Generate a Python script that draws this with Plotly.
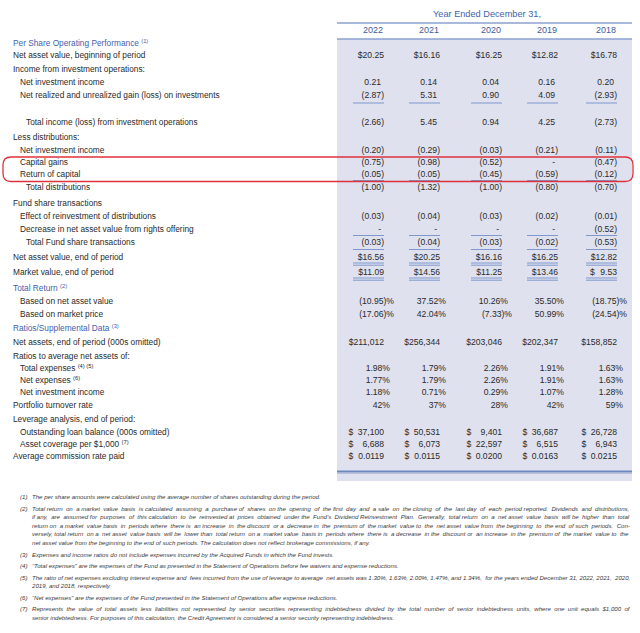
import plotly.graph_objects as go

# ---------------- data ----------------
HEADER = "Year Ended December 31,"
YEARS = ["2022", "2021", "2020", "2019", "2018"]

ROW_LABELS = [
    "Per Share Operating Performance <sup>(1)</sup>",
    "Net asset value, beginning of period",
    "Income from investment operations:",
    "Net investment income",
    "Net realized and unrealized gain (loss) on investments",
    "Total income (loss) from investment operations",
    "Less distributions:",
    "Net investment income",
    "Capital gains",
    "Return of capital",
    "Total distributions",
    "Fund share transactions",
    "Effect of reinvestment of distributions",
    "Decrease in net asset value from rights offering",
    "Total Fund share transactions",
    "Net asset value, end of period",
    "Market value, end of period",
    "Total Return <sup>(2)</sup>",
    "Based on net asset value",
    "Based on market price",
    "Ratios/Supplemental Data <sup>(3)</sup>",
    "Net assets, end of period (000s omitted)",
    "Ratios to average net assets of:",
    "Total expenses <sup>(4) (5)</sup>",
    "Net expenses <sup>(6)</sup>",
    "Net investment income",
    "Portfolio turnover rate",
    "Leverage analysis, end of period:",
    "Outstanding loan balance (000s omitted)",
    "Asset coverage per $1,000 <sup>(7)</sup>",
    "Average commission rate paid",
]
SECTION_ROWS = [0, 17, 20]

ROW_VALUES = {
    1: ["$20.25", "$16.16", "$16.25", "$12.82", "$16.78"],
    3: ["0.21", "0.14", "0.04", "0.16", "0.20"],
    4: ["(2.87)", "5.31", "0.90", "4.09", "(2.93)"],
    5: ["(2.66)", "5.45", "0.94", "4.25", "(2.73)"],
    7: ["(0.20)", "(0.29)", "(0.03)", "(0.21)", "(0.11)"],
    8: ["(0.75)", "(0.98)", "(0.52)", "-", "(0.47)"],
    9: ["(0.05)", "(0.05)", "(0.45)", "(0.59)", "(0.12)"],
    10: ["(1.00)", "(1.32)", "(1.00)", "(0.80)", "(0.70)"],
    12: ["(0.03)", "(0.04)", "(0.03)", "(0.02)", "(0.01)"],
    13: ["-", "-", "-", "-", "(0.52)"],
    14: ["(0.03)", "(0.04)", "(0.03)", "(0.02)", "(0.53)"],
    15: ["$16.56", "$20.25", "$16.16", "$16.25", "$12.82"],
    16: ["$11.09", "$14.56", "$11.25", "$13.46", "$ 9.53"],
    18: ["(10.95)%", "37.52%", "10.26%", "35.50%", "(18.75)%"],
    19: ["(17.06)%", "42.04%", "(7.33)%", "50.99%", "(24.54)%"],
    21: ["$211,012", "$256,344", "$203,046", "$202,347", "$158,852"],
    23: ["1.98%", "1.79%", "2.26%", "1.91%", "1.63%"],
    24: ["1.77%", "1.79%", "2.26%", "1.91%", "1.63%"],
    25: ["1.18%", "0.71%", "0.29%", "1.07%", "1.28%"],
    26: ["42%", "37%", "28%", "42%", "59%"],
    28: ["$ 37,100", "$ 50,531", "$ 9,401", "$ 36,687", "$ 26,728"],
    29: ["$ 6,688", "$ 6,073", "$ 22,597", "$ 6,515", "$ 6,943"],
    30: ["$ 0.0119", "$ 0.0115", "$ 0.0200", "$ 0.0163", "$ 0.0215"],
}

FOOTNOTES = [
    ("(1)", ["The per share amounts were calculated using the average number of shares outstanding during the period."]),
    ("(2)", [
        "Total return on a market value basis is calculated assuming a purchase of shares on the opening of the first day and a sale on the closing of the last day of each period reported. Dividends and distributions,",
        "if any, are assumed for purposes of this calculation to be reinvested at prices obtained under the Fund\u2019s Dividend Reinvestment Plan. Generally, total return on a net asset value basis will be higher than total",
        "return on a market value basis in periods where there is an increase in the discount or a decrease in the premium of the market value to the net asset value from the beginning to the end of such periods. Con-",
        "versely, total return on a net asset value basis will be lower than total return on a market value basis in periods where there is a decrease in the discount or an increase in the premium of the market value to the",
        "net asset value from the beginning to the end of such periods. The calculation does not reflect brokerage commissions, if any.",
    ]),
    ("(3)", ["Expenses and income ratios do not include expenses incurred by the Acquired Funds in which the Fund invests."]),
    ("(4)", ["\u201cTotal expenses\u201d are the expenses of the Fund as presented in the Statement of Operations before fee waivers and expense reductions."]),
    ("(5)", [
        "The ratio of net expenses excluding interest expense and fees incurred from the use of leverage to average net assets was 1.30%, 1.63%, 2.00%, 1.47%, and 1.34%, for the years ended December 31, 2022, 2021, 2020,",
        "2019, and 2018, respectively.",
    ]),
    ("(6)", ["\u201cNet expenses\u201d are the expenses of the Fund presented in the Statement of Operations after expense reductions."]),
    ("(7)", [
        "Represents the value of total assets less liabilities not represented by senior securities representing indebtedness divided by the total number of senior indebtedness units, where one unit equals $1,000 of",
        "senior indebtedness. For purposes of this calculation, the Credit Agreement is considered a senior security representing indebtedness.",
    ]),
]

# ---------------- layout (positions / styles) ----------------
W, H = 640, 633
COL_EDGE = [384, 440, 502, 558, 617]
ROW_Y = [44, 56, 70, 83, 96, 123, 138, 151, 163, 175, 188, 204, 217, 230, 243,
         258, 273, 289, 302, 315, 329, 343, 357, 369, 381, 393, 406, 420, 433, 445, 457]
INDENT = [0, 0, 0, 1, 1, 2, 0, 1, 1, 1, 2, 0, 1, 1, 2, 0, 0, 0, 1, 1, 0, 0, 0, 1, 1, 1, 0, 0, 1, 1, 0]
INDENT_X = {0: 13, 1: 20, 2: 26}
SINGLE_UNDER = {4: 103, 9: 180.5, 13: 235.5, 14: 249.5}
DOUBLE_UNDER = {15: 263, 16: 278}
UNDER_W = 31
DOLLAR_GAP = {16: 27, 28: 35.5, 29: 35.5, 30: 35.5}
PAREN_W = 3
PCT_PAREN_X, PCT_PLAIN_X = 10, 6
FOOT_Y = [497, 509, 517.5, 526, 534.5, 543, 555, 566.5, 578, 586.5, 598, 609.5, 618]
FOOT_NUM_X, FOOT_TXT_X = 20, 32
FOOT_SIZE = 6.1
FOOT_TARGET = 598          # justified line width (px)
JUSTIFIED = {(1, 0), (1, 1), (1, 2), (1, 3), (4, 0), (6, 0)}   # (footnote, line)

FONT = "Liberation Sans, Arial, sans-serif"
TXT = "#2a2a2a"
BLUE_TXT = "#3e63ad"
HEAD_TXT = "#3f5b9a"
LINE_BLUE = "#8da2d3"
SHADE = "#dfe1ef"
NOMARK = dict(size=0, opacity=0)

# Arial / Liberation Sans advance widths (1/1000 em) for justification
_AW = {" ": 278, "!": 278, '"': 355, "#": 556, "$": 556, "%": 889, "&": 667, "'": 191,
       "(": 333, ")": 333, "*": 389, "+": 584, ",": 278, "-": 333, ".": 278, "/": 278,
       ":": 278, ";": 278, "?": 556, "\u2019": 222, "\u201c": 333, "\u201d": 333,
       "A": 667, "B": 667, "C": 722, "D": 722, "E": 667, "F": 611, "G": 778, "H": 722,
       "I": 278, "J": 500, "K": 667, "L": 556, "M": 833, "N": 722, "O": 778, "P": 667,
       "Q": 778, "R": 722, "S": 667, "T": 611, "U": 722, "V": 667, "W": 944, "X": 667,
       "Y": 667, "Z": 611, "a": 556, "b": 556, "c": 500, "d": 556, "e": 556, "f": 278,
       "g": 556, "h": 556, "i": 222, "j": 222, "k": 500, "l": 222, "m": 833, "n": 556,
       "o": 556, "p": 556, "q": 556, "r": 333, "s": 500, "t": 278, "u": 556, "v": 500,
       "w": 722, "x": 500, "y": 500, "z": 500}


def em_width(s):
    return sum(_AW.get(ch, 556) for ch in s) / 1000.0


def justify(line, size, target):
    natural = em_width(line) * size
    if natural >= target:
        return line, min(size, target / em_width(line))
    extra = int(round((target - natural) / (0.278 * size)))
    words = line.split(" ")
    gaps = len(words) - 1
    out = words[0]
    for g in range(gaps):
        n = extra * (g + 1) // gaps - extra * g // gaps
        out += " " + "\u00a0" * n + words[g + 1]
    return out, size


fig = go.Figure()

# labels
fig.add_trace(go.Scatter(
    x=[INDENT_X[INDENT[i]] for i in range(len(ROW_LABELS))],
    y=ROW_Y, text=ROW_LABELS, mode="text", textposition="middle right", marker=NOMARK,
    textfont=dict(family=FONT, size=8.3,
                  color=[BLUE_TXT if i in SECTION_ROWS else TXT for i in range(len(ROW_LABELS))]),
    hoverinfo="skip", showlegend=False))

# values
vx, vy, vt = [], [], []
dx, dy = [], []
for r, vals in ROW_VALUES.items():
    for c, v in enumerate(vals):
        edge = COL_EDGE[c]
        txt = v
        if v.startswith("$ "):
            txt = v[2:]
            dx.append(edge - DOLLAR_GAP[r]); dy.append(ROW_Y[r])
        if txt.endswith("%"):
            x = edge + (PCT_PAREN_X if txt[:-1].endswith(")") else PCT_PLAIN_X)
        else:
            x = edge - (0 if txt.endswith(")") or txt.startswith("$") or r in DOLLAR_GAP else PAREN_W)
        vx.append(x); vy.append(ROW_Y[r]); vt.append(txt)
fig.add_trace(go.Scatter(x=vx, y=vy, text=vt, mode="text", textposition="middle left", marker=NOMARK,
                         textfont=dict(family=FONT, size=8.6, color=TXT),
                         hoverinfo="skip", showlegend=False))
fig.add_trace(go.Scatter(x=dx, y=dy, text=["$"] * len(dx), mode="text", textposition="middle right",
                         marker=NOMARK, textfont=dict(family=FONT, size=8.6, color=TXT),
                         hoverinfo="skip", showlegend=False))

# header
fig.add_trace(go.Scatter(x=[487], y=[15], text=[HEADER], mode="text", marker=NOMARK,
                         textposition="middle center",
                         textfont=dict(family=FONT, size=9.2, color=BLUE_TXT),
                         hoverinfo="skip", showlegend=False))
fig.add_trace(go.Scatter(x=[e - 1 for e in COL_EDGE], y=[31] * 5, text=YEARS, mode="text",
                         textposition="middle left", marker=NOMARK,
                         textfont=dict(family=FONT, size=9, color=HEAD_TXT),
                         hoverinfo="skip", showlegend=False))

# footnotes
fx, fy, ft, fs, nx, ny, nt = [], [], [], [], [], [], []
k = 0
for fi, (num, lines) in enumerate(FOOTNOTES):
    nx.append(FOOT_NUM_X); ny.append(FOOT_Y[k]); nt.append("<i>%s</i>" % num)
    for li, ln in enumerate(lines):
        if (fi, li) in JUSTIFIED:
            ln2, sz = justify(ln, FOOT_SIZE, FOOT_TARGET)
        else:
            ln2, sz = ln, FOOT_SIZE
        fx.append(FOOT_TXT_X); fy.append(FOOT_Y[k]); ft.append("<i>%s</i>" % ln2); fs.append(sz)
        k += 1
fig.add_trace(go.Scatter(x=nx, y=ny, text=nt, mode="text", textposition="middle right", marker=NOMARK,
                         textfont=dict(family=FONT, size=FOOT_SIZE, color="#3a3a3a"),
                         hoverinfo="skip", showlegend=False))
fig.add_trace(go.Scatter(x=fx, y=fy, text=ft, mode="text", textposition="middle right", marker=NOMARK,
                         textfont=dict(family=FONT, size=fs, color="#3a3a3a"),
                         hoverinfo="skip", showlegend=False))

# shapes
shapes = []
SH_X0, SH_X1 = 337, 632
shapes.append(dict(type="rect", xref="x", yref="y", x0=SH_X0, x1=SH_X1, y0=39, y1=481,
                   fillcolor=SHADE, line=dict(width=0), layer="below"))
shapes.append(dict(type="line", xref="x", yref="y", x0=SH_X0, x1=SH_X1, y0=23, y1=23,
                   line=dict(color=LINE_BLUE, width=1.3)))
shapes.append(dict(type="line", xref="x", yref="y", x0=SH_X0, x1=SH_X1, y0=39, y1=39,
                   line=dict(color=LINE_BLUE, width=1.5)))
shapes.append(dict(type="line", xref="x", yref="y", x0=SH_X0, x1=SH_X1, y0=471.5, y1=471.5,
                   line=dict(color="#6d87c0", width=2)))
shapes.append(dict(type="line", xref="x", yref="y", x0=SH_X0, x1=SH_X1, y0=473.5, y1=473.5,
                   line=dict(color="#b9c0d8", width=1)))
for r, yy in SINGLE_UNDER.items():
    for e in COL_EDGE:
        shapes.append(dict(type="line", xref="x", yref="y", x0=e - UNDER_W, x1=e, y0=yy, y1=yy,
                           line=dict(color="#7f97cc", width=1)))
for r, yy in DOUBLE_UNDER.items():
    for e in COL_EDGE:
        for off in (0, 2.2):
            shapes.append(dict(type="line", xref="x", yref="y", x0=e - UNDER_W, x1=e,
                               y0=yy + off, y1=yy + off, line=dict(color="#7f97cc", width=1)))
# red rounded highlight box
bx0, bx1, by0, by1, rr = 3, 633, 157, 181.5, 8
path = (f"M {bx0+rr} {by0} L {bx1-rr} {by0} Q {bx1} {by0} {bx1} {by0+rr} "
        f"L {bx1} {by1-rr} Q {bx1} {by1} {bx1-rr} {by1} L {bx0+rr} {by1} "
        f"Q {bx0} {by1} {bx0} {by1-rr} L {bx0} {by0+rr} Q {bx0} {by0} {bx0+rr} {by0} Z")
shapes.append(dict(type="path", xref="x", yref="y", path=path,
                   line=dict(color="#e0323c", width=1.3)))

fig.update_layout(
    width=W, height=H, margin=dict(l=0, r=0, t=0, b=0),
    paper_bgcolor="white", plot_bgcolor="white",
    xaxis=dict(range=[0, W], visible=False, fixedrange=True),
    yaxis=dict(range=[H, 0], visible=False, fixedrange=True),
    shapes=shapes, showlegend=False,
)
fig.write_html("out.html", config={"displayModeBar": False},
               post_script="document.body.style.margin='0';document.body.style.overflow='hidden';")
